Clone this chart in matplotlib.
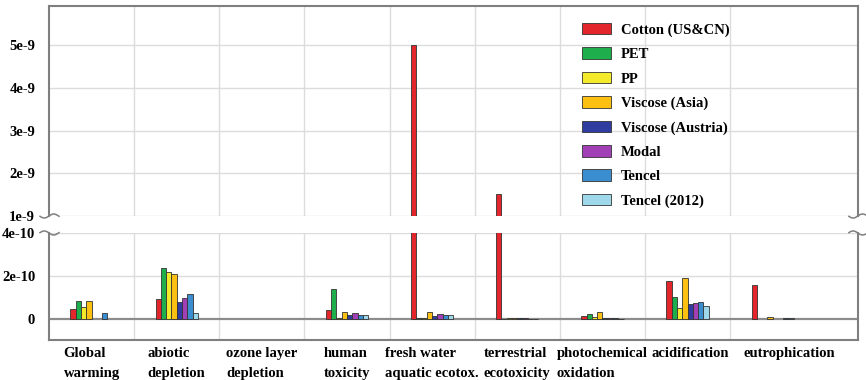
import numpy as np
import matplotlib
matplotlib.use("Agg")
import matplotlib.pyplot as plt
import matplotlib.transforms as mtransforms

# categorias del eje x
categorias = ["Global\nwarming", "abiotic\ndepletion", "ozone layer\ndepletion",
              "human\ntoxicity", "fresh water\naquatic ecotox.", "terrestrial\necotoxicity",
              "photochemical\noxidation", "acidification", "eutrophication"]

# valores (en unidades de 1e-10)
cotton = [0.48, 0.94, 0.0, 0.43, 50.0, 15.1, 0.15, 1.77, 1.57]
pet = [0.87, 2.37, 0.0, 1.41, 0.05, 0.03, 0.25, 1.01, 0.0]
pp = [0.56, 2.17, 0.0, 0.05, 0.06, 0.04, 0.12, 0.53, 0.0]
viscose_asia = [0.87, 2.09, 0.0, 0.35, 0.35, 0.06, 0.34, 1.89, 0.11]
viscose_austria = [0.0, 0.82, 0.0, 0.20, 0.15, 0.04, 0.05, 0.73, 0.0]
modal = [0.0, 0.98, 0.0, 0.28, 0.25, 0.06, 0.05, 0.77, 0.0]
tencel = [0.29, 1.16, 0.0, 0.19, 0.20, 0.03, 0.05, 0.79, 0.08]
tencel_2012 = [0.0, 0.28, 0.0, 0.19, 0.18, 0.02, 0.03, 0.62, 0.05]

series = ["Cotton (US&CN)", "PET", "PP", "Viscose (Asia)", "Viscose (Austria)",
          "Modal", "Tencel", "Tencel (2012)"]
valores = [cotton, pet, pp, viscose_asia, viscose_austria, modal, tencel, tencel_2012]
colores = ["#e3262b", "#1fae4c", "#f4ea2c", "#fbc012", "#2e3d9f", "#a040b4",
           "#3a8dcf", "#9ed8ea"]

ticks_sup = [1e-9, 2e-9, 3e-9, 4e-9, 5e-9]
etiq_sup = ["1e-9", "2e-9", "3e-9", "4e-9", "5e-9"]
ticks_inf = [0, 2e-10, 4e-10]
etiq_inf = ["0", "2e-10", "4e-10"]

plt.rcParams['font.family'] = ['Liberation Serif', 'DejaVu Serif']
plt.rcParams['font.weight'] = 'bold'
fs = 10.5

fig = plt.figure(figsize=(8.66, 3.8), dpi=100)
ax_sup = fig.add_axes([0.0566, 0.4316, 0.934, 0.5526])
ax_inf = fig.add_axes([0.0566, 0.1053, 0.934, 0.2816])

x = np.arange(len(categorias))
ancho = 0.062
gris = "#7f7f7f"

for ax in (ax_sup, ax_inf):
    for i, (nombre, vals, c) in enumerate(zip(series, valores, colores)):
        vals = np.array(vals) * 1e-10
        hay = vals > 0  # las barras en cero no se dibujan
        ax.bar(x[hay] + (i - 3.5) * ancho, vals[hay], width=ancho,
               color=c, edgecolor="#333333", linewidth=0.6, label=nombre, zorder=3)
    ax.set_xlim(-0.5, 9.0)
    for b in np.arange(0.5, 8.0, 1.0):
        ax.axvline(b, color="#dcdcdc", lw=1, zorder=0)
    for s in ax.spines.values():
        s.set_color(gris)
        s.set_linewidth(1.5)
    ax.tick_params(length=0, labelsize=fs, pad=10)

ax_sup.set_ylim(1e-9, 5.92e-9)
ax_sup.set_yticks(ticks_sup)
ax_sup.set_yticklabels(etiq_sup)
ax_sup.set_xticks([])
ax_sup.spines['bottom'].set_visible(False)
for t in ticks_sup:
    ax_sup.axhline(t, color="#dcdcdc", lw=1, zorder=0)

ax_inf.set_ylim(-0.96e-10, 4e-10)
ax_inf.set_yticks(ticks_inf)
ax_inf.set_yticklabels(etiq_inf)
ax_inf.spines['top'].set_visible(False)
ax_inf.axhline(4e-10, color="#dcdcdc", lw=1, zorder=0)
ax_inf.axhline(2e-10, color="#dcdcdc", lw=1, zorder=0)
ax_inf.axhline(0, color="#8c8c8c", lw=1.6, zorder=2)

# etiquetas de categorias
desplaz = [0, 0, 0, 0, 0, 0, 0, 0.03, 0.2]
ax_inf.set_xticks(x + np.array(desplaz))
ax_inf.set_xticklabels(categorias, fontsize=fs, multialignment='left', linespacing=1.75)
ax_inf.tick_params(axis='x', pad=5)

ax_sup.legend(loc='upper left', bbox_to_anchor=(0.65, 0.955), frameon=False,
              fontsize=fs, borderpad=0, labelspacing=0.72, handlelength=2.0,
              handleheight=0.85, handletextpad=0.65)

# marcas de corte del eje
def marca(ax, xa, ya, signo):
    t = fig.dpi_scale_trans + mtransforms.ScaledTranslation(xa, ya, ax.transAxes)
    px = np.linspace(-9, 10, 40)
    py = signo * 2.0 * np.sin(px / 9.5 * np.pi)
    ax.plot(px / 100, py / 100, color=gris, lw=1.1, transform=t, clip_on=False, zorder=5)

marca(ax_sup, 0, 0, 1)
marca(ax_sup, 1, 0, 1)
marca(ax_inf, 0, 1, -1)
marca(ax_inf, 1, 1, -1)

fig.savefig("out.png", dpi=100)
